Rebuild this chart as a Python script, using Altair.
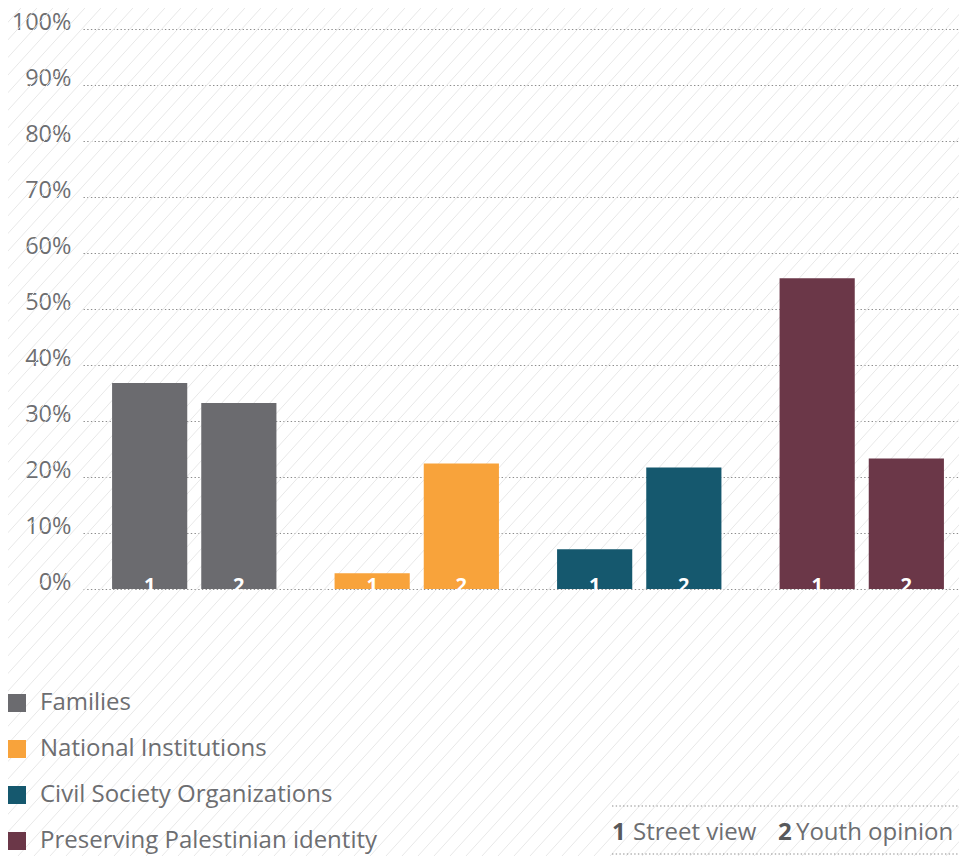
import altair as alt
import pandas as pd

# ---- data ----
categories = ["Families", "National Institutions", "Civil Society Organizations",
              "Preserving Palestinian identity"]
series = ["1", "2"]
street_view = [36.8, 2.8, 7.1, 55.5]      # series "1"
youth_opinion = [33.2, 22.4, 21.7, 23.3]  # series "2"
colors = ["#6b6b6f", "#f8a33b", "#15586e", "#6b3748"]
y_ticks = [0, 10, 20, 30, 40, 50, 60, 70, 80, 90, 100]

rows = []
for c, a, b in zip(categories, street_view, youth_opinion):
    rows.append({"category": c, "series": "1", "value": a})
    rows.append({"category": c, "series": "2", "value": b})
df = pd.DataFrame(rows)

# ---- layout (svg must fit 951 x 848 so the page does not overflow) ----
PAD_L, PAD_T, PAD_R = 80, 21, 0
W, H = 871, 560
PAD_B = 848 - PAD_T - H
FONT = "Open Sans"
TXT = "#6d6e71"
DARK = "#58595b"
GRID = "#8c8c8c"

# ---- background hatch (decoration) ----
SLOPE = 1.1
SPAN = PAD_T + H + PAD_B
hatch = (
    alt.Chart(alt.sequence(-PAD_L - int(SPAN / SLOPE) - 20, W + 20, 16, as_="c"))
    .transform_calculate(
        x0="datum.c",
        x1=f"datum.c + {SPAN / SLOPE}",
        y0=f"{H + PAD_B}",
        y1=f"{-PAD_T}",
    )
    .mark_rule(color="#e8e8e8", strokeWidth=1)
    .encode(
        x=alt.X("x0:Q", scale=None, axis=None),
        x2="x1:Q",
        y=alt.Y("y0:Q", scale=None, axis=None),
        y2="y1:Q",
    )
)

xenc = alt.X("category:N", sort=categories, axis=None,
             scale=alt.Scale(paddingInner=0, paddingOuter=0, range=[-5, 885]))
xoff = alt.XOffset("series:N", sort=series,
                   scale=alt.Scale(paddingInner=0.157, paddingOuter=0.326))
yscale = alt.Scale(domain=[0, 100], nice=False)

bars = alt.Chart(df).mark_bar(clip=False).encode(
    x=xenc,
    xOffset=xoff,
    y=alt.Y(
        "value:Q",
        scale=yscale,
        title=None,
        axis=alt.Axis(
            values=y_ticks,
            labelExpr="datum.value + '%'",
            domain=False,
            ticks=False,
            labelPadding=17,
            labelFont=FONT,
            labelFontSize=23.5,
            labelColor=TXT,
            labelBaseline="alphabetic",
            grid=True,
            gridColor=GRID,
            gridDash=[1.4, 2.3],
            gridWidth=1.2,
        ),
    ),
    color=alt.Color(
        "category:N",
        sort=categories,
        scale=alt.Scale(domain=categories, range=colors),
        legend=alt.Legend(
            title=None,
            orient="none",
            legendX=-PAD_L - 3,
            legendY=662,
            padding=0,
            direction="vertical",
            symbolType="square",
            symbolSize=324,
            symbolStrokeWidth=0,
            symbolOffset=0,
            symbolOpacity=1,
            labelFont=FONT,
            labelFontSize=24,
            labelColor=TXT,
            labelOffset=11,
            rowPadding=22,
            labelLimit=500,
        ),
    ),
)

labels = alt.Chart(df).mark_text(
    color="white", font=FONT, fontWeight="bold", fontSize=20,
    baseline="alphabetic", dy=3,
).encode(
    x=xenc,
    xOffset=xoff,
    y=alt.datum(0, scale=yscale),
    text="series:N",
)

# ---- bottom-right key ----
one = pd.DataFrame({"t": [0]})
OX, OY = PAD_L + 8, PAD_T + 8   # plot origin in page pixels
NOTE_Y = 840 - OY
key_rules = alt.Chart(pd.DataFrame({"y": [806 - OY, 854 - OY]})).mark_rule(
    color=GRID, strokeDash=[1.4, 2.3], strokeWidth=1.2
).encode(
    x=alt.value(612 - OX), x2=alt.value(W), y=alt.Y("y:Q", scale=None, axis=None)
)

def note(text, x, bold):
    return alt.Chart(one).mark_text(
        text=text, align="left", baseline="alphabetic", font=FONT, fontSize=24,
        fontWeight="bold" if bold else "normal", color=DARK if bold else TXT,
    ).encode(x=alt.value(x - OX), y=alt.value(NOTE_Y))

notes = [
    note("1", 612, True),
    note("Street view", 633, False),
    note("2", 778, True),
    note("Youth opinion", 796, False),
]

main = alt.layer(bars, labels)
chart = (
    alt.layer(hatch, main, key_rules, *notes)
    .resolve_scale(x="independent", y="independent")
    .properties(
        width=W,
        height=H,
        autosize=alt.AutoSizeParams(type="none"),
        padding={"left": PAD_L, "top": PAD_T, "right": PAD_R, "bottom": PAD_B},
        background="white",
    )
    .configure_view(strokeWidth=0)
)

chart.save("out.html", embed_options={"renderer": "svg", "actions": False})
